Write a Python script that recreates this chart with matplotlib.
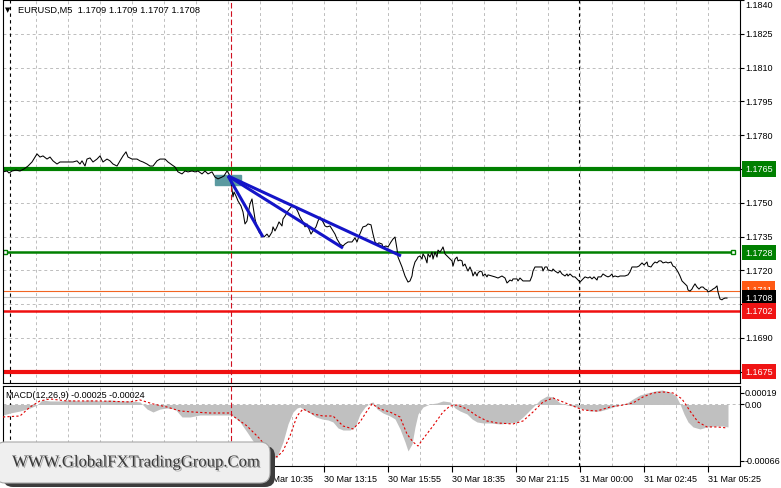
import matplotlib
matplotlib.use('Agg')
import matplotlib.pyplot as plt
from matplotlib.patches import Rectangle, FancyBboxPatch
import matplotlib.patheffects as pe

plt.rcParams['font.family'] = ['Liberation Sans', 'DejaVu Sans']
plt.rcParams['font.size'] = 6.5

# EURUSD M5 closes, bar index = column of the chart (1 bar per pixel)
bar_x = [3, 7, 9, 12, 16, 20, 24, 28, 32, 37,
         40, 43, 47, 50, 53, 57, 60, 63, 68, 73,
         77, 80, 82, 85, 87, 90, 93, 97, 100, 103,
         107, 110, 113, 117, 120, 123, 126, 128, 132, 137,
         140, 143, 147, 150, 153, 157, 160, 165, 168, 172,
         175, 178, 182, 185, 188, 192, 195, 198, 202, 205,
         208, 212, 215, 218, 222, 224, 227, 229, 231, 233,
         234, 236, 238, 241, 243, 245, 247, 248, 250, 252,
         253, 255, 257, 259, 262, 264, 267, 269, 272, 273,
         275, 277, 279, 282, 283, 285, 288, 291, 293, 296,
         298, 300, 303, 305, 307, 309, 311, 313, 316, 318,
         320, 323, 325, 327, 330, 333, 335, 337, 340, 343,
         345, 348, 352, 355, 357, 359, 362, 363, 366, 368,
         371, 373, 375, 377, 379, 382, 383, 386, 388, 391,
         393, 395, 397, 398, 402, 405, 408, 410, 412, 413,
         415, 417, 418, 420, 422, 423, 425, 427, 428, 430,
         432, 433, 435, 437, 438, 440, 442, 443, 445, 447,
         448, 450, 452, 453, 455, 457, 458, 460, 462, 463,
         465, 467, 468, 470, 472, 473, 475, 477, 478, 480,
         482, 483, 485, 487, 488, 492, 495, 498, 502, 505,
         507, 508, 510, 512, 513, 517, 518, 520, 523, 527,
         530, 532, 533, 535, 537, 538, 542, 543, 545, 547,
         548, 552, 553, 555, 558, 560, 562, 565, 567, 568,
         570, 572, 573, 575, 578, 580, 582, 583, 585, 588,
         590, 592, 594, 597, 598, 601, 603, 606, 608, 610,
         612, 613, 615, 618, 620, 625, 628, 630, 632, 634,
         637, 639, 642, 644, 647, 648, 651, 653, 655, 657,
         659, 661, 663, 666, 668, 671, 673, 675, 678, 680,
         682, 685, 687, 688, 690, 692, 693, 695, 697, 699,
         701, 703, 705, 707, 708, 710, 712, 713, 715, 717,
         718, 720, 722, 723, 725, 727]
close = [1.17637, 1.17641, 1.17632, 1.17641, 1.17645, 1.17641, 1.17650, 1.17663, 1.17681, 1.17717,
         1.17703, 1.17708, 1.17694, 1.17703, 1.17686, 1.17672, 1.17681, 1.17681, 1.17681, 1.17681,
         1.17686, 1.17672, 1.17686, 1.17663, 1.17694, 1.17699, 1.17681, 1.17694, 1.17708, 1.17681,
         1.17694, 1.17686, 1.17672, 1.17663, 1.17686, 1.17708, 1.17726, 1.17703, 1.17694, 1.17694,
         1.17686, 1.17681, 1.17672, 1.17663, 1.17663, 1.17686, 1.17694, 1.17694, 1.17681, 1.17668,
         1.17659, 1.17637, 1.17628, 1.17641, 1.17637, 1.17641, 1.17637, 1.17641, 1.17628, 1.17641,
         1.17628, 1.17637, 1.17614, 1.17606, 1.17614, 1.17619, 1.17641, 1.17628, 1.17592, 1.17526,
         1.17548, 1.17530, 1.17508, 1.17486, 1.17459, 1.17406, 1.17419, 1.17450, 1.17495, 1.17517,
         1.17486, 1.17428, 1.17393, 1.17370, 1.17352, 1.17348, 1.17361, 1.17348, 1.17370, 1.17393,
         1.17375, 1.17393, 1.17415, 1.17397, 1.17428, 1.17441, 1.17464, 1.17481, 1.17486, 1.17477,
         1.17459, 1.17437, 1.17415, 1.17393, 1.17406, 1.17384, 1.17361, 1.17375, 1.17393, 1.17419,
         1.17437, 1.17415, 1.17397, 1.17393, 1.17397, 1.17375, 1.17361, 1.17339, 1.17317, 1.17308,
         1.17317, 1.17326, 1.17326, 1.17344, 1.17326, 1.17352, 1.17384, 1.17393, 1.17397, 1.17406,
         1.17402, 1.17361, 1.17326, 1.17317, 1.17322, 1.17317, 1.17304, 1.17308, 1.17304, 1.17326,
         1.17339, 1.17348, 1.17295, 1.17259, 1.17215, 1.17175, 1.17148, 1.17153, 1.17175, 1.17206,
         1.17237, 1.17250, 1.17259, 1.17264, 1.17250, 1.17273, 1.17259, 1.17233, 1.17273, 1.17259,
         1.17281, 1.17250, 1.17281, 1.17259, 1.17290, 1.17281, 1.17295, 1.17304, 1.17273, 1.17264,
         1.17259, 1.17250, 1.17242, 1.17219, 1.17250, 1.17259, 1.17242, 1.17246, 1.17242, 1.17219,
         1.17228, 1.17206, 1.17197, 1.17215, 1.17193, 1.17175, 1.17193, 1.17175, 1.17188, 1.17197,
         1.17193, 1.17175, 1.17184, 1.17171, 1.17180, 1.17175, 1.17171, 1.17166, 1.17175, 1.17166,
         1.17144, 1.17148, 1.17157, 1.17153, 1.17162, 1.17162, 1.17153, 1.17166, 1.17153, 1.17153,
         1.17153, 1.17175, 1.17197, 1.17215, 1.17215, 1.17215, 1.17215, 1.17197, 1.17215, 1.17215,
         1.17202, 1.17197, 1.17206, 1.17197, 1.17188, 1.17197, 1.17184, 1.17175, 1.17184, 1.17175,
         1.17184, 1.17175, 1.17171, 1.17171, 1.17157, 1.17148, 1.17157, 1.17162, 1.17171, 1.17166,
         1.17171, 1.17162, 1.17171, 1.17157, 1.17171, 1.17171, 1.17184, 1.17175, 1.17171, 1.17175,
         1.17184, 1.17171, 1.17175, 1.17171, 1.17175, 1.17175, 1.17180, 1.17193, 1.17215, 1.17215,
         1.17215, 1.17219, 1.17233, 1.17224, 1.17237, 1.17219, 1.17215, 1.17228, 1.17237, 1.17233,
         1.17242, 1.17242, 1.17233, 1.17237, 1.17233, 1.17237, 1.17219, 1.17215, 1.17193, 1.17175,
         1.17153, 1.17140, 1.17131, 1.17113, 1.17108, 1.17117, 1.17126, 1.17140, 1.17126, 1.17117,
         1.17126, 1.17126, 1.17117, 1.17113, 1.17104, 1.17108, 1.17113, 1.17117, 1.17122, 1.17131,
         1.17104, 1.17073, 1.17069, 1.17073, 1.17077, 1.17077]

# MACD(12,26,9) main (histogram) and signal
hist_x = [3, 10, 20, 30, 37, 42, 50, 60, 70, 80,
          90, 100, 110, 120, 130, 140, 147, 153, 160, 167,
          175, 182, 190, 200, 210, 220, 230, 233, 240, 247,
          253, 260, 266, 272, 277, 283, 288, 293, 297, 300,
          305, 310, 316, 322, 328, 333, 338, 343, 350, 355,
          360, 365, 370, 373, 377, 383, 390, 395, 400, 405,
          408, 412, 415, 418, 423, 430, 437, 443, 450, 455,
          460, 467, 472, 477, 483, 490, 500, 510, 517, 523,
          530, 535, 540, 547, 553, 560, 567, 573, 580, 590,
          600, 607, 613, 620, 627, 633, 640, 647, 655, 662,
          670, 676, 680, 684, 688, 693, 700, 707, 715, 722,
          728]
hist_v = [-0.000116, -0.000094, -0.000072, -0.000039, -0.000006, 0.000050, 0.000039, 0.000039, 0.000050, 0.000039,
          0.000050, 0.000039, 0.000050, 0.000039, 0.000039, 0.000028, -0.000050, -0.000083, -0.000050, -0.000039,
          -0.000050, -0.000138, -0.000138, -0.000116, -0.000116, -0.000116, -0.000116, -0.000127, -0.000193, -0.000304,
          -0.000403, -0.000491, -0.000557, -0.000602, -0.000580, -0.000414, -0.000215, -0.000083, -0.000039, -0.000028,
          -0.000061, -0.000094, -0.000138, -0.000160, -0.000171, -0.000193, -0.000259, -0.000282, -0.000282, -0.000248,
          -0.000105, -0.000028, 0.000017, 0.000028, -0.000050, -0.000094, -0.000127, -0.000160, -0.000270, -0.000414,
          -0.000513, -0.000436, -0.000248, -0.000105, -0.000028, 0.000006, 0.000017, 0.000039, 0.000028, -0.000039,
          -0.000072, -0.000105, -0.000160, -0.000193, -0.000204, -0.000204, -0.000215, -0.000204, -0.000193, -0.000138,
          -0.000061, -0.000006, 0.000050, 0.000094, 0.000083, 0.000017, -0.000006, -0.000017, -0.000039, -0.000072,
          -0.000072, -0.000050, -0.000028, -0.000006, 0.000017, 0.000061, 0.000105, 0.000127, 0.000149, 0.000160,
          0.000138, 0.000094, 0.000006, -0.000105, -0.000193, -0.000248, -0.000270, -0.000248, -0.000237, -0.000237,
          -0.000248]
sig_x = [3, 20, 30, 40, 50, 67, 100, 130, 140, 153,
         167, 180, 193, 210, 230, 233, 247, 260, 270, 277,
         283, 290, 297, 303, 313, 323, 333, 343, 353, 360,
         367, 372, 380, 390, 400, 407, 413, 418, 423, 433,
         443, 450, 457, 467, 477, 487, 497, 513, 523, 533,
         543, 553, 563, 573, 583, 597, 610, 623, 633, 643,
         653, 663, 673, 682, 690, 698, 707, 717, 727]
sig_v = [-0.000138, -0.000127, -0.000028, 0.000039, 0.000061, 0.000039, 0.000039, 0.000028, 0.000050, 0.000006,
         -0.000028, -0.000072, -0.000083, -0.000094, -0.000094, -0.000127, -0.000237, -0.000381, -0.000524, -0.000580,
         -0.000513, -0.000348, -0.000127, -0.000050, -0.000105, -0.000127, -0.000127, -0.000237, -0.000270, -0.000193,
         -0.000072, 0.000006, -0.000050, -0.000083, -0.000138, -0.000326, -0.000414, -0.000458, -0.000381, -0.000237,
         -0.000083, -0.000017, -0.000006, -0.000050, -0.000127, -0.000182, -0.000204, -0.000215, -0.000182, -0.000083,
         0.000028, 0.000072, 0.000028, -0.000017, -0.000061, -0.000072, -0.000028, -0.000006, 0.000017, 0.000083,
         0.000127, 0.000138, 0.000127, 0.000061, -0.000072, -0.000193, -0.000248, -0.000248, -0.000259]

price_ticks = [1.1840, 1.1825, 1.1810, 1.1795, 1.1780, 1.1765, 1.1750, 1.1735, 1.1720, 1.1705, 1.1690, 1.1675]
plain_ticks = ['1.1825', '1.1810', '1.1795', '1.1780', '1.1750', '1.1735', '1.1720', '1.1690']
time_pos = [260, 324, 388, 452, 516, 580, 644, 708]
time_lbl = ['30 Mar 10:35', '30 Mar 13:15', '30 Mar 15:55', '30 Mar 18:35',
            '30 Mar 21:15', '31 Mar 00:00', '31 Mar 02:45', '31 Mar 05:25']

# trend lines drawn from the top of the drop
tl_start = (228, 1.17619)
tl_ends = [(263, 1.17348), (343, 1.17299), (401, 1.17264)]

W, H = 781, 489
def box(x0, y0, x1, y1):
    return [x0 / W, 1 - y1 / H, (x1 - x0) / W, (y1 - y0) / H]

fig = plt.figure(figsize=(W / 100, H / 100), dpi=100)
ax = fig.add_axes(box(3, 1, 740, 384))
am = fig.add_axes(box(3, 387, 740, 467))

grid_kw = dict(color='#bdbdbd', lw=0.7, ls=(0, (3, 3)), zorder=0)
for a in (ax, am):
    a.set_xlim(3, 740)
    for s in a.spines.values():
        s.set_color('black')
        s.set_linewidth(0.8)
    for gx in range(36, 720, 32):
        a.axvline(gx, **grid_kw)
    a.axvline(10, color='black', lw=0.8, ls=(0, (3, 3)), zorder=1)
    a.axvline(579, color='black', lw=0.8, ls=(0, (3, 3)), zorder=1)
    a.axvline(231, color='#d01020', lw=0.8, ls=(0, (5, 2.5)), zorder=4)

# main price panel
ax.set_ylim(1.1670, 1.1840)
for p in price_ticks[1:]:
    ax.axhline(p, **grid_kw)
ax.set_xticks([])
ax.set_yticks(price_ticks)
ax.set_yticklabels([])
ax.tick_params(axis='y', left=False, right=True, length=3, width=0.8)

ax.axhline(1.1765, color='#008000', lw=3, zorder=2)
ax.plot([5, 733], [1.1728, 1.1728], color='#008000', lw=1.8, zorder=2,
        marker='s', ms=3.5, mfc='white', mec='#008000', mew=1)
ax.axhline(1.1711, color='#f26522', lw=0.8, zorder=2)
ax.axhline(1.1708, color='#c0c0c0', lw=0.8, zorder=2)
ax.axhline(1.1702, color='#f01010', lw=1.8, zorder=2)
ax.axhline(1.1675, color='#f01010', lw=3, zorder=2)

ax.add_patch(Rectangle((215, 1.17579), 26, 0.00044, color='#5b9aa0', zorder=2))
ax.plot(bar_x, close, color='black', lw=0.75, zorder=3)
for ex, ey in tl_ends:
    ax.plot([tl_start[0], ex], [tl_start[1], ey], color='#1414c8', lw=2.2,
            solid_capstyle='butt', zorder=5)

ytr = ax.get_yaxis_transform()
lx = 1.0068
ax.text(lx, 1.0, '1.1840', transform=ax.transAxes, va='top', ha='left')
for t in plain_ticks:
    ax.text(lx, float(t), t, transform=ytr, va='center', ha='left')
tags = [(1.1765, '1.1765', '#008000'), (1.1728, '1.1728', '#008000'),
        (1.1711, '1.1711', '#ff5a14'), (1.1708, '1.1708', 'black'),
        (1.1702, '1.1702', '#f01414'), (1.1675, '1.1675', '#f01414')]
for lv, t, c in tags:
    yy = lv + 0.00007 if t == '1.1711' else lv
    ax.text(lx, yy, t, transform=ytr, va='center', ha='left', color='white', clip_on=False,
            bbox=dict(boxstyle='square,pad=0.35', fc=c, ec='none'))

# MACD panel
am.set_ylim(-0.000679, 0.000204)
am.axhline(0, **grid_kw)
am.fill_between(hist_x, hist_v, 0, color='#c0c0c0', lw=0, zorder=1)
am.plot(sig_x, sig_v, color='#e00000', lw=0.8, ls=(0, (2, 2)), zorder=3)
am.set_yticks([0.00013, 0, -0.00062])
am.set_yticklabels([])
am.tick_params(axis='y', left=False, right=True, length=3, width=0.8)
am.text(lx, 0.9125, '0.00019', transform=am.transAxes, va='center', ha='left')
am.text(lx, 0.7625, '0.00', transform=am.transAxes, va='center', ha='left')
am.text(lx, 0.0625, '-0.00066', transform=am.transAxes, va='center', ha='left')
am.set_xticks(time_pos)
am.set_xticklabels(time_lbl, ha='left')
am.tick_params(axis='x', length=4, width=0.8, pad=2)

fig.text(8 / W, 1 - 10 / H, '\u25bc', family='DejaVu Sans', fontsize=5, ha='center', va='center')
fig.text(18 / W, 1 - 10 / H, 'EURUSD,M5  1.1709 1.1709 1.1707 1.1708', fontsize=6.7, va='center')
fig.text(6 / W, 1 - 396 / H, 'MACD(12,26,9) -0.00025 -0.00024', fontsize=6.5, va='center')

# watermark badge
tr = fig.dpi_scale_trans
fig.add_artist(FancyBboxPatch((0.03, 0.01), 2.72, 0.41, boxstyle='round,pad=0,rounding_size=0.1',
                              transform=tr, fc='#3c3c3c', ec='none', zorder=5))
fig.add_artist(FancyBboxPatch((-0.05, 0.05), 2.75, 0.41, boxstyle='round,pad=0,rounding_size=0.1',
                              transform=tr, fc='#efefef', ec='#a8a8a8', lw=0.8, zorder=6))
fig.text(1.36, 0.255, 'WWW.GlobalFXTradingGroup.Com', transform=tr, ha='center', va='center',
         family='Liberation Serif', fontsize=12, color='#383838', zorder=7,
         path_effects=[pe.withSimplePatchShadow(offset=(1, -1), shadow_rgbFace='#9a9a9a', alpha=0.8)])

fig.savefig('out.png', dpi=100)
